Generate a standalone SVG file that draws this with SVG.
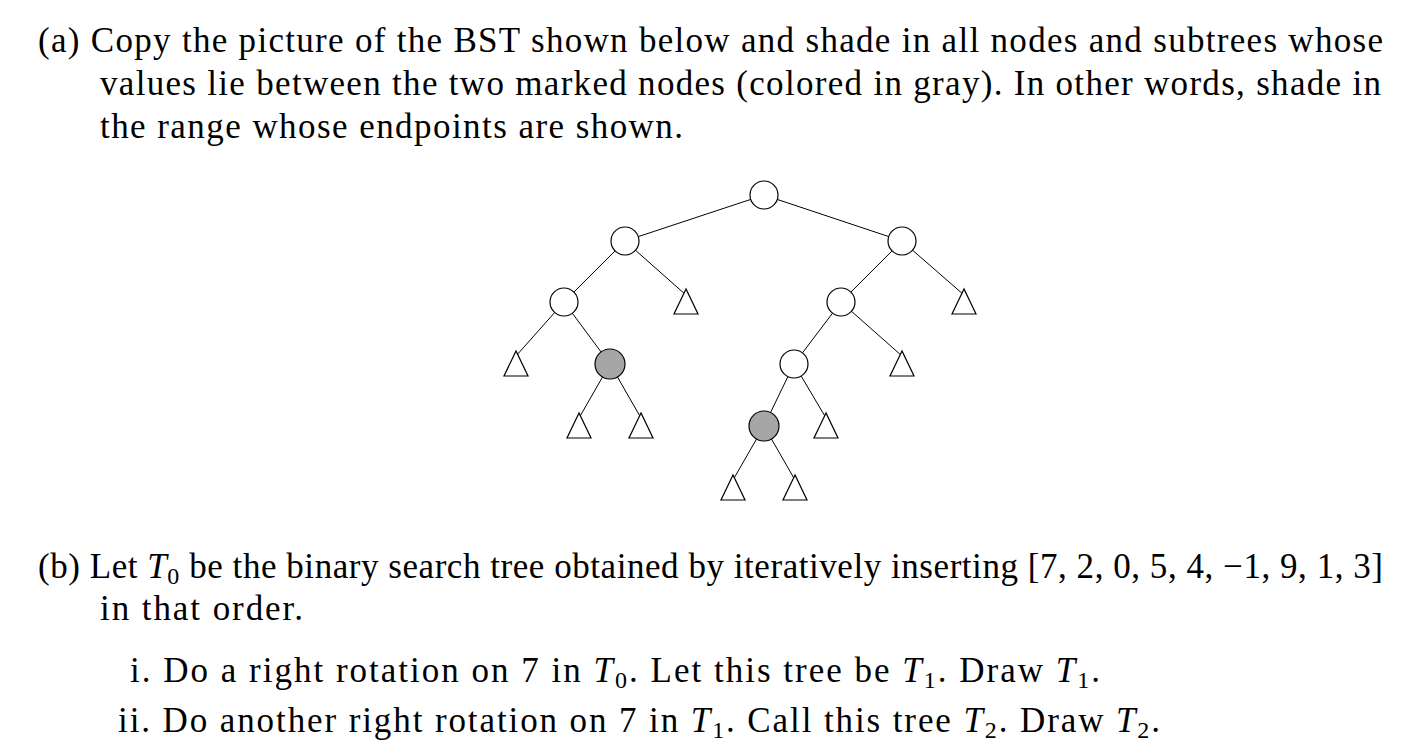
<svg xmlns="http://www.w3.org/2000/svg" width="1422" height="756" viewBox="0 0 1422 756">
<style>
text{font-family:"Liberation Serif","DejaVu Serif",serif;font-size:35px;fill:#000}
.i{font-style:italic}
.s{font-size:24px}
.n{fill:#fff;stroke:#000;stroke-width:1.2}
.g{fill:#a6a6a6;stroke:#000;stroke-width:1.2}
.t{fill:#fff;stroke:#000;stroke-width:1.2}
.e{stroke:#000;stroke-width:1}
</style>
<rect width="1422" height="756" fill="#fff"/>
<text x="38" y="52" textLength="1345" lengthAdjust="spacing">(a) Copy the picture of the BST shown below and shade in all nodes and subtrees whose</text>
<text x="100" y="95" textLength="1281" lengthAdjust="spacing">values lie between the two marked nodes (colored in gray). In other words, shade in</text>
<text x="100" y="138" textLength="583" lengthAdjust="spacing">the range whose endpoints are shown.</text>
<g id="edges">
<line class="e" x1="764" y1="195" x2="625" y2="241"/>
<line class="e" x1="764" y1="195" x2="902" y2="241"/>
<line class="e" x1="625" y1="241" x2="564" y2="302"/>
<line class="e" x1="625" y1="241" x2="686" y2="295"/>
<line class="e" x1="902" y1="241" x2="841" y2="302"/>
<line class="e" x1="902" y1="241" x2="964" y2="295"/>
<line class="e" x1="564" y1="302" x2="516" y2="356"/>
<line class="e" x1="564" y1="302" x2="610" y2="364"/>
<line class="e" x1="841" y1="302" x2="794" y2="364"/>
<line class="e" x1="841" y1="302" x2="902" y2="356"/>
<line class="e" x1="610" y1="364" x2="579" y2="418"/>
<line class="e" x1="610" y1="364" x2="641" y2="418"/>
<line class="e" x1="794" y1="364" x2="764" y2="426"/>
<line class="e" x1="794" y1="364" x2="826" y2="418"/>
<line class="e" x1="764" y1="426" x2="733" y2="480"/>
<line class="e" x1="764" y1="426" x2="795" y2="480"/>
</g>
<g id="root"><circle class="n" cx="764" cy="195" r="14"/></g>
<g id="l"><circle class="n" cx="625" cy="241" r="14"/></g>
<g id="r"><circle class="n" cx="902" cy="241" r="14"/></g>
<g id="ll"><circle class="n" cx="564" cy="302" r="14"/></g>
<g id="rl"><circle class="n" cx="841" cy="302" r="14"/></g>
<g id="rll"><circle class="n" cx="794" cy="364" r="14"/></g>
<g id="g1"><circle class="g" cx="610" cy="364" r="15"/></g>
<g id="g2"><circle class="g" cx="764" cy="426" r="15"/></g>
<g id="t1"><polygon class="t" points="686,289 674,314 698,314"/></g>
<g id="t2"><polygon class="t" points="964,289 952,314 976,314"/></g>
<g id="t3"><polygon class="t" points="516,351 504,376 528,376"/></g>
<g id="t4"><polygon class="t" points="902,351 890,376 914,376"/></g>
<g id="t5"><polygon class="t" points="579,413 567,438 591,438"/></g>
<g id="t6"><polygon class="t" points="641,413 629,438 653,438"/></g>
<g id="t7"><polygon class="t" points="826,413 814,438 838,438"/></g>
<g id="t8"><polygon class="t" points="733,475 721,500 745,500"/></g>
<g id="t9"><polygon class="t" points="795,475 783,500 807,500"/></g>
<text x="38" y="578" textLength="1345" lengthAdjust="spacing">(b) Let <tspan class="i">T</tspan><tspan class="s" dy="6">0</tspan><tspan dy="-6"> be the binary search tree obtained by iteratively inserting [7, 2, 0, 5, 4, −1, 9, 1, 3]</tspan></text>
<text x="100" y="620" textLength="203" lengthAdjust="spacing">in that order.</text>
<text x="130" y="682" textLength="970" lengthAdjust="spacing">i. Do a right rotation on 7 in <tspan class="i">T</tspan><tspan class="s" dy="6">0</tspan><tspan dy="-6">. Let this tree be </tspan><tspan class="i">T</tspan><tspan class="s" dy="6">1</tspan><tspan dy="-6">. Draw </tspan><tspan class="i">T</tspan><tspan class="s" dy="6">1</tspan><tspan dy="-6">.</tspan></text>
<text x="118" y="732" textLength="1042" lengthAdjust="spacing">ii. Do another right rotation on 7 in <tspan class="i">T</tspan><tspan class="s" dy="6">1</tspan><tspan dy="-6">. Call this tree </tspan><tspan class="i">T</tspan><tspan class="s" dy="6">2</tspan><tspan dy="-6">. Draw </tspan><tspan class="i">T</tspan><tspan class="s" dy="6">2</tspan><tspan dy="-6">.</tspan></text>
</svg>
